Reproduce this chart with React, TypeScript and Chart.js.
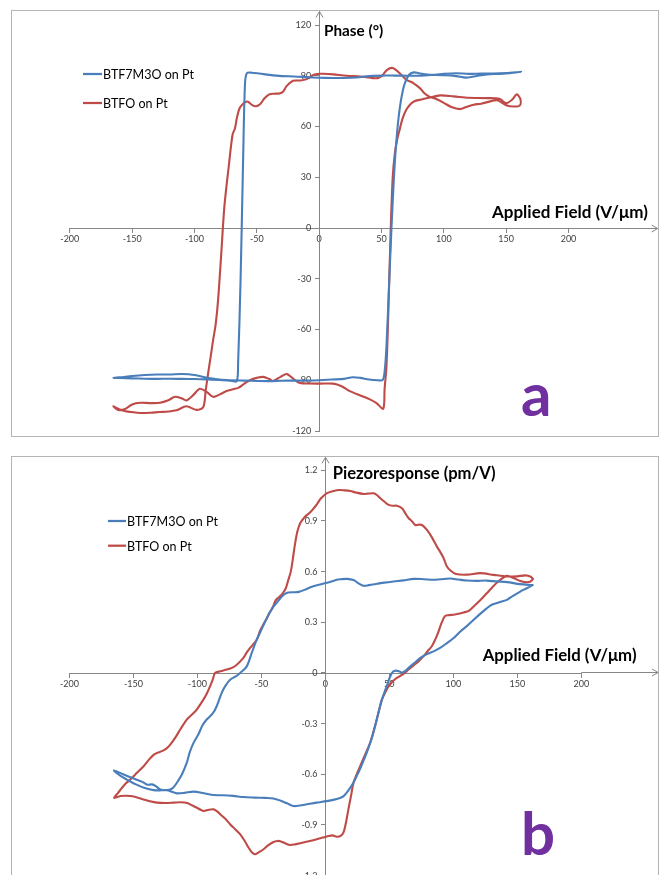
import React, { useEffect, useRef } from 'react';
import { Chart, registerables } from 'chart.js';

Chart.register(...registerables);

const BLUE = '#4a7ebb';
const RED = '#be4b48';
const AXIS = '#868686';
const TICK_TEXT = '#404040';
const FONT = 'Lato, "Open Sans", sans-serif';

const SERIES_LABELS = ['BTF7M3O on Pt', 'BTFO on Pt'];
const FIELD_TITLE = 'Applied Field (V/μm)';
const PHASE_TITLE = 'Phase (°)';
const PIEZO_TITLE = 'Piezoresponse (pm/V)';

// axis ranges / ticks
const FIELD_MIN = -200, FIELD_MAX = 200, FIELD_STEP = 50;
const PHASE_MIN = -120, PHASE_MAX = 120, PHASE_STEP = 30;
const PIEZO_MIN = -1.2, PIEZO_MAX = 1.2, PIEZO_STEP = 0.3;

// ---- Panel a : phase (°) vs applied field ----
const phaseBlueX = [
  0, -10, -20, -30, -40, -48, -54, -58, -59.5, -61, -63, -65, -66,
  -70, -80, -90, -100, -110, -120, -130, -140, -150, -160, -165,
  -160, -150, -140, -130, -120, -110, -100, -90, -80, -70, -60, -50, -40, -30, -20, -10, 0, 10, 20, 27, 33, 40, 47, 51,
  52.5, 54, 56, 58, 60, 62, 64.5, 68, 72, 76,
  80, 90, 100, 110, 120, 130, 140, 150, 162,
  150, 140, 130, 118, 110, 100, 90, 80, 70, 60, 50, 40, 30, 20, 10, 0,
];
const phaseBlueY = [
  88.8, 89.2, 89.6, 89.8, 90.5, 91.3, 91.8, 91.5, 85, 40, -30, -80, -90.6,
  -90.4, -89.8, -89.5, -89.3, -89.2, -89.1, -89.2, -89.1, -88.9, -88.7, -88.6,
  -88.3, -87.5, -86.9, -86.6, -86.6, -86.3, -86.9, -88.5, -89.6, -90, -90.2, -90.4, -90.5, -90.3, -90.2, -90.2, -90, -89.6, -89.2, -88.2, -88.6, -89.6, -90, -89.8,
  -85, -70, -35, 0, 30, 52, 70, 84, 90.5, 92,
  91.5, 90.6, 91.2, 91.5, 91.1, 91.3, 91.3, 91.6, 92.3,
  91.3, 91, 90.3, 88.9, 89.8, 90.3, 90.4, 90, 90, 90.1, 90.1, 89.8, 89, 88.7, 88.7, 88.8,
];

const phaseRedX = [
  0, -5, -10, -15, -21, -26, -29, -32, -36, -40, -44, -47, -50.5, -54, -57.5, -61, -64, -66, -67.5, -69.5, -72.5, -76, -78.5, -81, -83, -85, -87, -89, -91, -93,
  -98.5, -106.4, -114.5, -121, -128, -135, -141, -148, -154.6, -160, -165,
  -161.3, -155.6, -150, -143.6, -135, -127.6, -121, -115.5, -110, -106.4, -101, -95.7, -90, -85, -80, -74.3, -69, -64.9, -60, -55.5, -50, -44.8, -40, -36.8, -31, -26, -20, -15.4, -8, 0.6, 11.3, 18, 24.6, 33, 40.7, 46, 51.4,
  52.5, 54, 55.5, 57.3, 59, 60.7, 62.5, 64.5, 67, 70, 73, 76, 82, 88, 97, 108, 120, 134, 145, 150, 155, 158.5, 161.5, 161, 156, 150, 143,
  138, 130, 124, 118, 113, 106, 100, 93, 88, 84, 80.8, 75.5, 70, 64.6, 59, 54.5, 50.5, 47, 43, 38, 32.7, 22, 11.3, 3.2, 0,
];
const phaseRedY = [
  91.2, 90.3, 88, 87.2, 87, 84, 80.5, 79.5, 79.4, 79, 76.5, 73.5, 72, 72.8, 74.8, 73.5, 70.5, 65, 59, 55, 36.5, 12.8, -15, -42, -57, -66, -76, -85.7, -96, -106,
  -107.5, -105.4, -107.8, -108.5, -108.8, -109.2, -109.4, -109, -108.4, -107.3, -105.4,
  -107.5, -107, -104.3, -103.3, -103.5, -103.3, -101.8, -99.8, -100.8, -101.9, -98.8, -95, -97, -99.8, -98.5, -96.4, -95.3, -94.5, -92, -90, -88.6, -88, -89.3, -90.4, -88, -86.3, -89.6, -91.6, -91.9, -92, -92, -93.5, -96.4, -99, -101.3, -103.5, -106.8,
  -95, -81.8, -50, -3, 30, 44, 52, 58, 65, 70, 73, 74.8, 76, 77, 78.4, 77.8, 77, 76.8, 76.2, 73.8, 76, 79, 76, 72.5, 71.8, 72.6, 75.5,
  75, 73.5, 72.9, 71.5, 70.3, 71.5, 74, 76.5, 77.8, 80, 82.7, 85.7, 87.6, 91.5, 94.6, 93.5, 90, 88.6, 88.6, 89.2, 89.6, 90, 90.8, 91.2, 91.2,
];

// ---- Panel b : piezoresponse (pm/V) vs applied field ----
const piezoBlueX = [
  162, 152, 142, 134, 126, 118, 110.7, 104, 97.7, 90, 84.6, 77, 69, 61, 53.4, 46, 40.4, 34, 29.9, 26, 22, 17, 12, 8.9, 4, 0,
  -5, -10, -15, -20.7, -25, -28.9, -31.5, -34, -37, -40.4, -44, -47, -50, -53.6, -57, -61.4, -66.6, -70, -74.4, -78, -81, -84.9,
  -88, -92.7, -96, -99, -103, -106, -108.2, -112, -116, -119, -121.2, -125, -129, -132.5, -135.5, -139, -143, -149.8, -158, -165.2,
  -160, -155, -148, -141, -134.2, -128, -123.8, -120, -116, -110, -103, -95, -87.4, -80, -72, -64, -55, -47, -40.6, -35.4, -30,
  -25, -20, -14.6, -7, 1, 7, 11.5, 14.5, 16.7, 19, 21.9, 24.5, 27, 29.5, 32.3, 35, 37.5, 40, 42.7, 45, 48.3, 51, 53, 55, 57.5,
  60, 62.5, 66.4, 70, 74.2, 79, 84.6, 90, 95, 100, 105.5, 111, 115.9, 121, 126.3, 130, 134.1, 138, 141.9, 147, 152.3, 157, 162,
];
const piezoBlueY = [
  0.52, 0.526, 0.538, 0.542, 0.547, 0.545, 0.547, 0.553, 0.559, 0.555, 0.552, 0.555, 0.557, 0.548, 0.542, 0.535, 0.528, 0.52, 0.516, 0.53, 0.55, 0.557, 0.555, 0.552, 0.54, 0.532,
  0.522, 0.512, 0.496, 0.48, 0.478, 0.476, 0.468, 0.452, 0.425, 0.394, 0.35, 0.305, 0.255, 0.197, 0.13, 0.039, 0, -0.02, -0.04, -0.075, -0.118, -0.197,
  -0.24, -0.276, -0.31, -0.36, -0.414, -0.47, -0.53, -0.6, -0.65, -0.68, -0.69, -0.695, -0.69, -0.67, -0.66, -0.662, -0.645, -0.625, -0.6, -0.577,
  -0.61, -0.632, -0.66, -0.682, -0.694, -0.695, -0.694, -0.703, -0.713, -0.71, -0.703, -0.712, -0.723, -0.724, -0.728, -0.735, -0.738, -0.74, -0.743, -0.755, -0.772,
  -0.788, -0.785, -0.778, -0.768, -0.759, -0.75, -0.74, -0.728, -0.709, -0.685, -0.65, -0.61, -0.571, -0.525, -0.473, -0.415, -0.355, -0.28, -0.2, -0.14, -0.07, -0.015, 0.008, 0.014, 0.01,
  0.002, 0.012, 0.039, 0.062, 0.089, 0.11, 0.128, 0.15, 0.177, 0.205, 0.246, 0.28, 0.315, 0.35, 0.384, 0.404, 0.414, 0.423, 0.433, 0.458, 0.482, 0.5, 0.52,
];

const piezoRedX = [
  162.3, 160.5, 156.2, 150, 142, 131.5, 121, 110.7, 102, 98, 95, 92.4, 89.5, 87.2, 83.5, 79.4, 75.5, 72.5, 70.3, 67.5, 65.1, 62.5, 59.9, 56, 52.5, 49.5, 46, 43, 40, 37.8,
  33, 29.9, 24, 19.5, 15, 10.4, 5, 1.3, -1.5, -3.9, -6.5, -9.1, -12, -14.3, -17, -19.5, -21, -22.2, -24, -25.5, -27, -28.9, -31, -33.2, -36, -38.8, -41, -43.7, -46, -48.6,
  -51, -53.6, -58.8, -61.5, -64, -69.2, -73, -77, -82, -86.2, -88, -90.1, -92.5, -95.3, -100.5, -104, -108.3, -113.4, -117, -121.2, -124.5, -127.7, -131, -134.2, -138, -142, -147, -152.4, -156, -158.9, -162, -165,
  -162.5, -160.2, -156, -152.4, -147, -142, -137, -131.5, -125, -118.5, -113, -108, -104, -100.3, -97.5, -95.1, -91, -87.3, -84.5, -82.1, -78, -74.3, -70.5, -66.5, -63, -60, -57.5, -54.8, -51.5, -48.3,
  -44.5, -40.5, -37.5, -35.3, -31, -27.5, -23.5, -19.7, -13, -6.7, -2, 2.4, 5.5, 8.9, 12, 14.1, 16, 18, 20, 22, 24.5, 27.2, 31, 35, 37.5, 40.2, 42.3, 44.1, 46.5, 49,
  52, 54.7, 58.6, 62, 65, 69, 73, 77.3, 80, 83.2, 86, 88.2, 90.5, 93.3, 96, 100.3, 104, 108, 112, 115.9, 121, 126.3, 131, 136.7, 141.9, 147, 152.3, 156, 160, 162.3,
];
const piezoRedY = [
  0.556, 0.57, 0.578, 0.572, 0.572, 0.581, 0.591, 0.582, 0.586, 0.605, 0.63, 0.68, 0.72, 0.748, 0.8, 0.847, 0.876, 0.878, 0.876, 0.9, 0.916, 0.945, 0.975, 0.99, 0.99, 0.995, 1.015, 1.034, 1.055, 1.064,
  1.062, 1.06, 1.068, 1.077, 1.081, 1.083, 1.075, 1.065, 1.048, 1.03, 1.0, 0.975, 0.95, 0.936, 0.915, 0.89, 0.86, 0.827, 0.75, 0.67, 0.6, 0.552, 0.5, 0.473, 0.45, 0.43, 0.39, 0.355, 0.32, 0.286,
  0.25, 0.197, 0.148, 0.12, 0.089, 0.049, 0.03, 0.02, 0.01, 0, -0.04, -0.079, -0.12, -0.158, -0.217, -0.245, -0.276, -0.335, -0.38, -0.424, -0.45, -0.463, -0.472, -0.485, -0.515, -0.552, -0.59, -0.631, -0.655, -0.68, -0.71, -0.739,
  -0.735, -0.729, -0.727, -0.729, -0.737, -0.749, -0.76, -0.768, -0.77, -0.768, -0.766, -0.77, -0.785, -0.798, -0.81, -0.818, -0.81, -0.808, -0.82, -0.837, -0.865, -0.897, -0.925, -0.956, -0.995, -1.034, -1.062, -1.074, -1.06, -1.044,
  -1.02, -1.001, -0.995, -0.996, -1.01, -1.019, -1.015, -1.009, -0.997, -0.985, -0.975, -0.966, -0.962, -0.97, -0.965, -0.946, -0.89, -0.808, -0.73, -0.65, -0.6, -0.552, -0.485, -0.414, -0.35, -0.276, -0.21, -0.158, -0.12, -0.085,
  -0.055, -0.036, -0.018, 0, 0.02, 0.045, 0.07, 0.104, 0.13, 0.158, 0.2, 0.24, 0.29, 0.335, 0.342, 0.345, 0.35, 0.358, 0.368, 0.394, 0.43, 0.473, 0.512, 0.552, 0.575, 0.562, 0.545, 0.538, 0.54, 0.556,
];

function zip(xs: number[], ys: number[]) {
  return xs.map((x, i) => ({ x, y: ys[i] }));
}

const decorPlugin = {
  id: 'decor',
  afterDraw(chart: any, _args: any, opts: any) {
    const ctx = chart.ctx as CanvasRenderingContext2D;
    const xs = chart.scales.x;
    const ys = chart.scales.y;
    const align = (v: number) => Math.round(v - 0.5) + 0.5;
    const axisY = align(ys.getPixelForValue(0));
    const axisX = align(xs.getPixelForValue(0));
    const xFrom = xs.getPixelForValue(xs.max);
    const xTo = xs.getPixelForValue(opts.xEnd);
    const yFrom = ys.getPixelForValue(ys.max);
    const yTo = ys.getPixelForValue(opts.yEnd);
    ctx.save();
    ctx.strokeStyle = AXIS;
    ctx.lineWidth = 1;
    ctx.beginPath();
    ctx.moveTo(xFrom, axisY);
    ctx.lineTo(xTo, axisY);
    ctx.moveTo(xTo - 6, axisY - 3.5);
    ctx.lineTo(xTo, axisY);
    ctx.lineTo(xTo - 6, axisY + 3.5);
    ctx.moveTo(axisX, yFrom);
    ctx.lineTo(axisX, yTo);
    ctx.moveTo(axisX - 3.5, yTo + 6);
    ctx.lineTo(axisX, yTo);
    ctx.lineTo(axisX + 3.5, yTo + 6);
    ctx.stroke();

    const lg = opts.legend;
    chart.data.datasets.forEach((ds: any, i: number) => {
      const y = lg.y + i * lg.gap;
      ctx.strokeStyle = ds.borderColor;
      ctx.lineWidth = 2.25;
      ctx.beginPath();
      ctx.moveTo(lg.x, y);
      ctx.lineTo(lg.x + lg.len, y);
      ctx.stroke();
      ctx.fillStyle = '#000';
      ctx.font = lg.font;
      ctx.textBaseline = 'alphabetic';
      ctx.textAlign = 'left';
      ctx.fillText(ds.label, lg.x + lg.len + 1, y + lg.baseOffset);
    });

    for (const t of opts.texts) {
      ctx.fillStyle = t.color || '#000';
      ctx.font = t.font;
      ctx.textBaseline = 'alphabetic';
      ctx.textAlign = 'left';
      ctx.fillText(t.text, t.x, t.y);
    }
    ctx.restore();
  },
};

function makeConfig(p: any) {
  const tickFont = { family: FONT, size: 9 };
  return {
    type: 'scatter',
    data: {
      datasets: [
        { label: SERIES_LABELS[0], data: p.blue, borderColor: BLUE, backgroundColor: BLUE },
        { label: SERIES_LABELS[1], data: p.red, borderColor: RED, backgroundColor: RED },
      ].map((d) => ({
        ...d,
        showLine: true,
        borderWidth: 2.1,
        pointRadius: 0,
        pointHoverRadius: 0,
        tension: 0.3,
        fill: false,
        borderJoinStyle: 'round',
        borderCapStyle: 'round',
      })),
    },
    options: {
      responsive: false,
      animation: false,
      devicePixelRatio: 1,
      events: [],
      layout: { padding: p.padding },
      plugins: {
        legend: { display: false },
        tooltip: { enabled: false },
        decor: p.decor,
      },
      scales: {
        x: {
          type: 'linear',
          position: 'center',
          min: FIELD_MIN,
          max: FIELD_MAX,
          ticks: { stepSize: FIELD_STEP, font: tickFont, color: TICK_TEXT, padding: 2, autoSkip: false, maxRotation: 0 },
          grid: { display: true, drawOnChartArea: false, drawTicks: true, tickLength: 4, color: AXIS },
          border: { display: true, color: AXIS, width: 1 },
        },
        y: {
          type: 'linear',
          position: 'center',
          min: p.yMin,
          max: p.yMax,
          ticks: {
            stepSize: p.yStep,
            font: tickFont,
            color: TICK_TEXT,
            padding: 4,
            autoSkip: false,
            callback: (v: number) => String(Math.round(v * 10) / 10),
          },
          grid: { display: true, drawOnChartArea: false, drawTicks: true, tickLength: 4, color: AXIS },
          border: { display: true, color: AXIS, width: 1 },
        },
      },
    },
    plugins: [decorPlugin],
  } as any;
}

const configA = () =>
  makeConfig({
    blue: zip(phaseBlueX, phaseBlueY),
    red: zip(phaseRedX, phaseRedY),
    yMin: PHASE_MIN,
    yMax: PHASE_MAX,
    yStep: PHASE_STEP,
    padding: { left: 69.8, right: 90.5, top: 25, bottom: 14 },
    decor: {
      xEnd: 271.5,
      yEnd: 128,
      legend: { x: 83, y: 74, gap: 29, len: 19, font: `12.5px ${FONT}`, baseOffset: 5 },
      texts: [
        { text: PHASE_TITLE, x: 324, y: 35.5, font: `bold 15.3px ${FONT}` },
        { text: FIELD_TITLE, x: 492, y: 218.3, font: `bold 17px ${FONT}` },
        { text: 'a', x: 521, y: 416, font: `bold 60px ${FONT}`, color: '#7030a0' },
      ],
    },
  });

const configB = () =>
  makeConfig({
    blue: zip(piezoBlueX, piezoBlueY),
    red: zip(piezoRedX, piezoRedY),
    yMin: PIEZO_MIN,
    yMax: PIEZO_MAX,
    yStep: PIEZO_STEP,
    padding: { left: 69.4, right: 77.7, top: 25.3, bottom: 8.7 },
    decor: {
      xEnd: 260,
      yEnd: 1.277,
      legend: { x: 108, y: 76, gap: 24.7, len: 18, font: `12.5px ${FONT}`, baseOffset: 5 },
      texts: [
        { text: PIEZO_TITLE, x: 332.7, y: 34.3, font: `bold 16.6px ${FONT}` },
        { text: FIELD_TITLE, x: 482.7, y: 215.7, font: `bold 16.8px ${FONT}` },
        { text: 'b', x: 521, y: 410, font: `bold 60px ${FONT}`, color: '#7030a0' },
      ],
    },
  });

export default function App() {
  const aRef = useRef<HTMLCanvasElement>(null);
  const bRef = useRef<HTMLCanvasElement>(null);
  useEffect(() => {
    const a = new Chart(aRef.current as HTMLCanvasElement, configA());
    const b = new Chart(bRef.current as HTMLCanvasElement, configB());
    return () => {
      a.destroy();
      b.destroy();
    };
  }, []);
  const box: React.CSSProperties = {
    position: 'absolute',
    left: 11,
    width: 648,
    border: '1px solid #b4b4b4',
    boxSizing: 'border-box',
  };
  return (
    <div style={{ position: 'absolute', left: 0, top: 0, width: 659, height: 875, overflow: 'hidden', background: '#fff' }}>
      <div style={{ ...box, top: 10, height: 427 }} />
      <div style={{ ...box, top: 456, height: 440 }} />
      <canvas ref={aRef} width={659} height={445} style={{ position: 'absolute', left: 0, top: 0, width: 659, height: 445 }} />
      <canvas ref={bRef} width={659} height={440} style={{ position: 'absolute', left: 0, top: 445, width: 659, height: 440 }} />
    </div>
  );
}
